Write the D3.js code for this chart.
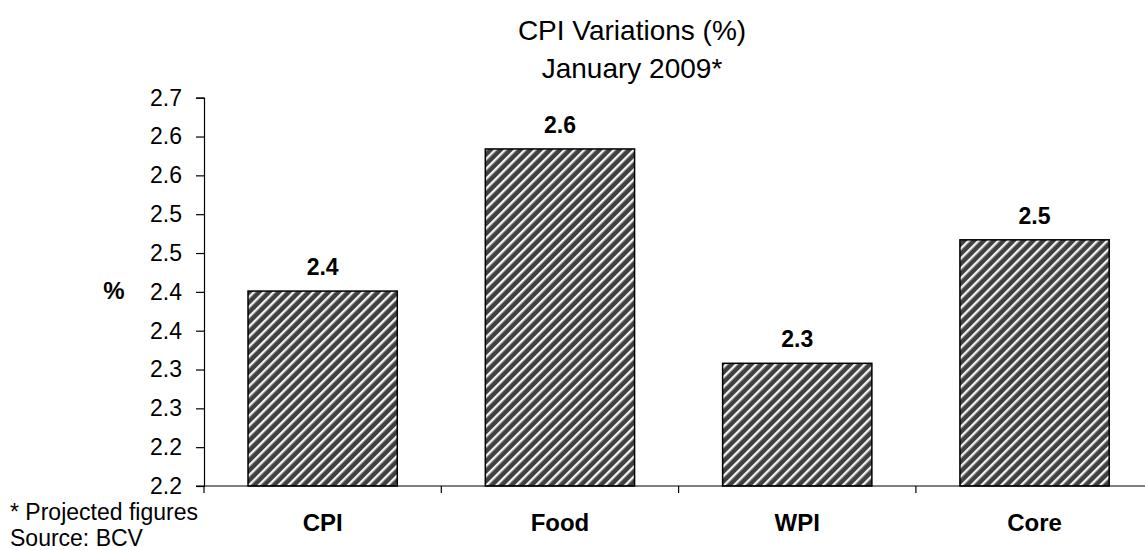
<!DOCTYPE html>
<html>
<head>
<meta charset="utf-8">
<script src="https://cdn.jsdelivr.net/npm/d3@7"></script>
<style>
  body { margin: 0; background: #fff; }
  svg { display: block; font-family: "Liberation Sans", Arial, sans-serif; }
</style>
</head>
<body>
<svg id="chart" width="1145" height="550"></svg>
<script>
// data
const categories = ["CPI", "Food", "WPI", "Core"];
const values = [2.451, 2.634, 2.358, 2.517];
const yTicks = [2.2, 2.25, 2.3, 2.35, 2.4, 2.45, 2.5, 2.55, 2.6, 2.65, 2.7];
const yTickLabels = ["2.2", "2.2", "2.3", "2.3", "2.4", "2.4", "2.5", "2.5", "2.6", "2.6", "2.7"];
const titleLines = ["CPI Variations (%)", "January 2009*"];
const notes = ["* Projected figures", "Source: BCV"];

const svg = d3.select("#chart");

const plotLeft = 204, plotBottom = 486, plotTop = 97.7;
const step = 237.3;

const x = d3.scaleBand()
    .domain(categories)
    .range([plotLeft, plotLeft + step * categories.length])
    .paddingInner(0.371)
    .paddingOuter(0.1855);

const y = d3.scaleLinear()
    .domain([2.2, 2.7])
    .range([plotBottom, plotTop]);

// labels are cut to one decimal, not rounded
const trunc1 = v => (Math.floor(v * 10 + 1e-6) / 10).toFixed(1);

// hatch pattern
const defs = svg.append("defs");
const pat = defs.append("pattern")
    .attr("id", "hatch")
    .attr("patternUnits", "userSpaceOnUse")
    .attr("width", 7)
    .attr("height", 7)
    .attr("patternTransform", "rotate(45)");
pat.append("rect")
    .attr("width", 7)
    .attr("height", 7)
    .attr("fill", "#404040");
pat.append("rect")
    .attr("x", 0)
    .attr("width", 2.4)
    .attr("height", 7)
    .attr("fill", "#f2f2f2");

// title
svg.append("g")
    .selectAll("text")
    .data(titleLines)
    .enter()
    .append("text")
    .attr("x", 632)
    .attr("y", (d, i) => 40 + i * 38)
    .attr("text-anchor", "middle")
    .attr("font-size", 28)
    .attr("fill", "#000")
    .text(d => d);

// y axis
const yAxis = d3.axisLeft(y)
    .tickValues(yTicks)
    .tickSize(8)
    .tickPadding(14)
    .tickFormat((d, i) => yTickLabels[i]);

const gy = svg.append("g")
    .attr("transform", `translate(${plotLeft},0)`)
    .call(yAxis);
gy.select(".domain").attr("stroke", "#000").attr("stroke-width", 1.2);
gy.selectAll(".tick line").attr("stroke", "#000").attr("stroke-width", 1.2);
gy.selectAll(".tick text")
    .attr("font-size", 23)
    .attr("font-family", "Liberation Sans, Arial, sans-serif")
    .attr("fill", "#000");

svg.append("text")
    .attr("x", 114)
    .attr("y", 299)
    .attr("text-anchor", "middle")
    .attr("font-size", 24)
    .attr("font-weight", "bold")
    .text("%");

// bars
svg.append("g")
    .selectAll("rect")
    .data(values)
    .enter()
    .append("rect")
    .attr("x", (d, i) => x(categories[i]))
    .attr("y", d => y(d))
    .attr("width", x.bandwidth())
    .attr("height", d => y(2.2) - y(d))
    .attr("fill", "url(#hatch)")
    .attr("stroke", "#000")
    .attr("stroke-width", 1.5);

// value labels
svg.append("g")
    .selectAll("text")
    .data(values)
    .enter()
    .append("text")
    .attr("x", (d, i) => x(categories[i]) + x.bandwidth() / 2)
    .attr("y", d => y(d) - 16)
    .attr("text-anchor", "middle")
    .attr("font-size", 23)
    .attr("font-weight", "bold")
    .text(d => trunc1(d));

// x axis line and separators
const boundaries = d3.range(categories.length + 1).map(i => plotLeft + i * step);
svg.append("line")
    .attr("x1", plotLeft - 8)
    .attr("x2", 1145)
    .attr("y1", plotBottom)
    .attr("y2", plotBottom)
    .attr("stroke", "#000")
    .attr("stroke-width", 1.2);
svg.append("g")
    .selectAll("line")
    .data(boundaries)
    .enter()
    .append("line")
    .attr("x1", d => d)
    .attr("x2", d => d)
    .attr("y1", plotBottom)
    .attr("y2", plotBottom + 7)
    .attr("stroke", "#000")
    .attr("stroke-width", 1.2);

// category labels
svg.append("g")
    .selectAll("text")
    .data(categories)
    .enter()
    .append("text")
    .attr("x", d => x(d) + x.bandwidth() / 2)
    .attr("y", 531)
    .attr("text-anchor", "middle")
    .attr("font-size", 24)
    .attr("font-weight", "bold")
    .text(d => d);

// footnotes
svg.append("g")
    .selectAll("text")
    .data(notes)
    .enter()
    .append("text")
    .attr("x", 10)
    .attr("y", (d, i) => 520 + i * 26)
    .attr("font-size", 23)
    .text(d => d);
</script>
</body>
</html>
